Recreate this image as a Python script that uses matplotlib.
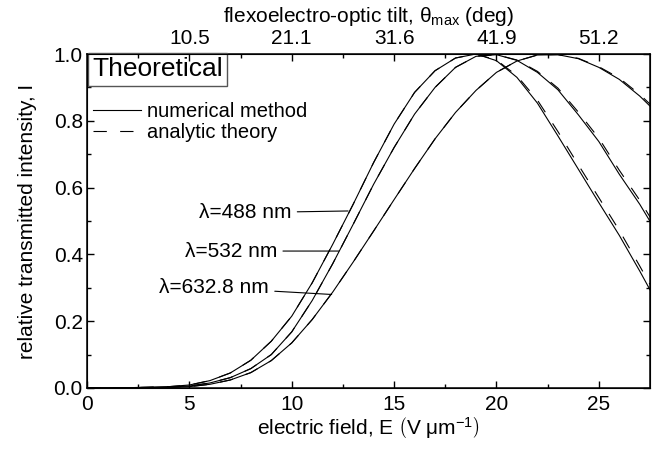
import matplotlib
matplotlib.use("Agg")
from matplotlib import pyplot as plt
from matplotlib.lines import Line2D
import numpy as np

plt.rcParams['font.family'] = ['Liberation Sans', 'DejaVu Sans']
plt.rcParams['mathtext.fontset'] = 'custom'
plt.rcParams['mathtext.rm'] = 'Liberation Sans'
plt.rcParams['mathtext.it'] = 'Liberation Sans:italic'
plt.rcParams['mathtext.bf'] = 'Liberation Sans:bold'

# electric field (V/um)
field = [0, 1, 2, 3, 4, 5, 6, 7, 8, 9, 10, 11, 12, 13, 14, 15, 16, 17, 18, 19,
         20, 21, 22, 23, 24, 25, 26, 27, 27.5]

# numerical method
num488 = [0, 0.0, 0.001, 0.002, 0.004, 0.009, 0.022, 0.045, 0.083, 0.14, 0.215, 0.315,
          0.43, 0.55, 0.675, 0.79, 0.885, 0.95, 0.988, 1.0, 0.98, 0.93, 0.853, 0.755,
          0.655, 0.555, 0.457, 0.35, 0.294]
num532 = [0, 0.0, 0.001, 0.002, 0.003, 0.006, 0.015, 0.031, 0.058, 0.1, 0.168, 0.262,
          0.372, 0.49, 0.61, 0.72, 0.82, 0.9, 0.96, 0.993, 0.998, 0.981, 0.945, 0.893,
          0.818, 0.738, 0.64, 0.55, 0.499]
num633 = [0, 0.0, 0.0, 0.001, 0.002, 0.004, 0.011, 0.024, 0.046, 0.082, 0.135, 0.205,
          0.287, 0.377, 0.47, 0.564, 0.657, 0.746, 0.825, 0.891, 0.945, 0.979, 0.997, 0.998,
          0.986, 0.96, 0.924, 0.874, 0.844]

# analytic theory
ana488 = [0, 0.0, 0.001, 0.002, 0.004, 0.009, 0.022, 0.045, 0.083, 0.14, 0.215, 0.315,
          0.43, 0.55, 0.675, 0.79, 0.885, 0.95, 0.988, 1.0, 0.982, 0.935, 0.862, 0.768,
          0.668, 0.57, 0.472, 0.365, 0.31]
ana532 = [0, 0.0, 0.001, 0.002, 0.003, 0.006, 0.015, 0.031, 0.058, 0.1, 0.168, 0.262,
          0.372, 0.49, 0.61, 0.72, 0.82, 0.9, 0.96, 0.993, 0.998, 0.982, 0.948, 0.898,
          0.826, 0.748, 0.652, 0.562, 0.512]
ana633 = [0, 0.0, 0.0, 0.001, 0.002, 0.004, 0.011, 0.024, 0.046, 0.082, 0.135, 0.205,
          0.287, 0.377, 0.47, 0.564, 0.657, 0.746, 0.825, 0.891, 0.945, 0.979, 0.997, 0.998,
          0.987, 0.962, 0.928, 0.879, 0.85]

topTickField = [5, 10, 15, 20, 25]
topTickLabels = ["10.5", "21.1", "31.6", "41.9", "51.2"]

fs = 15

fig = plt.figure(figsize=(6.71, 4.5), dpi=100)
ax = fig.add_axes([0.1297, 0.1378, 0.839, 0.7422])

dash = (0, (12, 12))
for ys in [num488, num532, num633]:
    ax.plot(field, ys, color='black', lw=0.8)
for ys in [ana488, ana532, ana633]:
    ax.plot(field, ys, color='black', lw=0.8, linestyle=dash)

ax.set_xlim(0, 27.5)
ax.set_ylim(0, 1.0)
ax.set_xticks([0, 5, 10, 15, 20, 25])
ax.set_xticks([2.5, 7.5, 12.5, 17.5, 22.5], minor=True)
ax.set_yticks([0, 0.2, 0.4, 0.6, 0.8, 1.0])
ax.set_yticks([0.1, 0.3, 0.5, 0.7, 0.9], minor=True)
ax.set_yticklabels(["0.0", "0.2", "0.4", "0.6", "0.8", "1.0"])
ax.tick_params(which='both', direction='in', labelsize=fs, right=True, top=False, width=1)
ax.tick_params(which='major', length=5)
ax.tick_params(which='minor', length=3)
ax.tick_params(axis='x', pad=5)
ax.tick_params(axis='y', pad=3)
for s in ax.spines.values():
    s.set_linewidth(1.1)

ax.set_xlabel(r"electric field, E $\left(\mathrm{V\ \mu m^{-1}}\right)$", fontsize=fs, labelpad=1)
ax.set_ylabel("relative transmitted intensity, I", fontsize=fs, labelpad=12)

ax2 = ax.twiny()
ax2.set_xlim(0, 27.5)
ax2.set_xticks(topTickField)
ax2.set_xticklabels(topTickLabels)
ax2.set_xticks([2.5, 7.5, 12.5, 17.5, 22.5], minor=True)
ax2.tick_params(which='both', direction='in', labelsize=fs, width=1, pad=4)
ax2.tick_params(which='major', length=5)
ax2.tick_params(which='minor', length=3)
ax2.set_xlabel(r"flexoelectro-optic tilt, θ$_{\mathrm{max}}$ (deg)", fontsize=fs, labelpad=5)

# Theoretical box
ax.text(0.0095, 0.99, "Theoretical", transform=ax.transAxes, fontsize=19, va='top', ha='left',
        bbox=dict(boxstyle='square,pad=0.17', facecolor='white', edgecolor='#555555', lw=1))

handles = [Line2D([], [], color='black', lw=0.8),
           Line2D([], [], color='black', lw=0.8, linestyle=dash)]
ax.legend(handles, ["numerical method", "analytic theory"], loc='upper left',
          bbox_to_anchor=(-0.004, 0.88), frameon=False, fontsize=14.5,
          handlelength=2.4, handletextpad=0.3, labelspacing=0.1, borderaxespad=0)

# wavelength labels with pointer lines
ax.annotate("λ=488 nm", xy=(12.75, 0.53), xytext=(10.0, 0.525), fontsize=fs,
            ha='right', va='center', arrowprops=dict(arrowstyle='-', lw=0.8, color='black', shrinkA=2, shrinkB=0))
ax.annotate("λ=532 nm", xy=(12.3, 0.41), xytext=(9.3, 0.41), fontsize=fs,
            ha='right', va='center', arrowprops=dict(arrowstyle='-', lw=0.8, color='black', shrinkA=2, shrinkB=0))
ax.annotate("λ=632.8 nm", xy=(11.95, 0.28), xytext=(8.9, 0.30), fontsize=fs,
            ha='right', va='center', arrowprops=dict(arrowstyle='-', lw=0.8, color='black', shrinkA=2, shrinkB=0))

fig.savefig("out.png", dpi=100)
